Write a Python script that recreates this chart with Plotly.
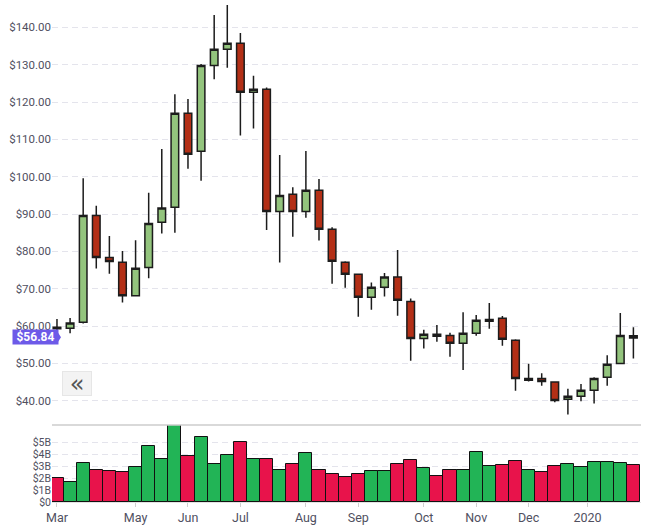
import plotly.graph_objects as go

# ---- data (weekly candles) ----
open_ = [59.7, 59.4, 61.0, 89.6, 78.4, 77.1, 68.1, 75.7, 87.8, 91.8,
         117.0, 106.8, 129.8, 134.1, 135.7, 122.6, 123.4, 90.7, 95.3, 90.7,
         96.4, 85.9, 77.1, 73.9, 67.7, 70.4, 73.15, 66.6, 56.7, 57.8,
         57.5, 55.4, 58.1, 61.3, 62.1, 56.2, 45.5, 46.0, 45.0, 40.4,
         41.2, 42.8, 46.3, 50.0, 57.4]
high = [61.9, 62.2, 99.6, 92.2, 84.1, 80.1, 83.0, 95.7, 107.4, 122.1,
        120.8, 130.2, 143.3, 146.0, 138.5, 127.0, 123.9, 105.8, 97.2, 106.9,
        99.4, 86.45, 77.35, 74.0, 71.7, 74.2, 80.4, 67.4, 59.0, 60.3,
        58.2, 63.7, 63.0, 66.2, 62.7, 56.5, 49.9, 47.4, 45.2, 43.2,
        44.5, 46.3, 52.2, 63.5, 59.7]
low = [58.2, 58.1, 60.7, 75.4, 74.0, 66.3, 68.0, 72.8, 84.8, 85.0,
       102.1, 98.9, 126.1, 129.2, 111.0, 112.9, 85.7, 77.0, 83.9, 89.0,
       82.9, 71.35, 70.3, 62.5, 64.4, 67.9, 62.8, 50.7, 54.0, 55.8,
       51.8, 48.25, 57.4, 59.3, 54.75, 42.7, 45.2, 44.0, 39.6, 36.3,
       39.9, 39.3, 44.0, 50.0, 51.3]
close = [59.3, 60.8, 89.6, 78.4, 77.3, 68.1, 75.5, 87.5, 91.6, 117.0,
         106.0, 129.8, 134.1, 135.7, 122.6, 123.4, 90.7, 95.0, 90.7, 96.4,
         85.9, 77.35, 73.9, 67.7, 70.4, 73.15, 66.9, 56.7, 57.8, 57.3,
         55.4, 58.1, 61.55, 61.8, 56.5, 46.0, 46.0, 45.2, 40.1, 41.2,
         42.8, 46.0, 49.8, 57.5, 56.84]
volume_b = [2.0, 1.67, 3.25, 2.67, 2.58, 2.5, 2.92, 4.67, 3.58, 6.42,
            3.83, 5.42, 3.17, 3.92, 5.0, 3.58, 3.58, 2.67, 3.17, 4.08,
            2.67, 2.33, 2.08, 2.33, 2.58, 2.58, 3.17, 3.5, 2.83, 2.17,
            2.67, 2.67, 4.17, 3.0, 3.08, 3.42, 2.67, 2.5, 3.0, 3.17,
            2.92, 3.33, 3.33, 3.25, 3.08]
tick_labels = ["Mar", "May", "Jun", "Jul", "Aug", "Sep", "Oct", "Nov", "Dec", "2020"]
tick_index = [0, 6, 10, 14, 19, 23, 28, 32, 36, 40.5]
last_price_label = "$56.84"

# ---- layout geometry ----
W, H = 647, 528
ML, MR, MT, MB = 52, 6, 0, 26
PW, PH = W - ML - MR, H - MT - MB
vol_top = (PH - (425 - MT)) / PH  # volume panel top (paper)


def px(x):
    return (x - ML) / PW


def py(y):
    return (PH - (y - MT)) / PH


idx = list(range(len(close)))
vol = [v * 1e9 for v in volume_b]
vol_colors = ["#22b456" if c >= o else "#e8134b" for o, c in zip(open_, close)]

FONT = "Roboto"
LBL = "#50505f"

fig = go.Figure()
fig.add_trace(go.Candlestick(
    x=idx, open=open_, high=high, low=low, close=close,
    xaxis="x", yaxis="y", whiskerwidth=0, showlegend=False,
    increasing=dict(fillcolor="#93c47d", line=dict(color="#1c1c1c", width=1.5)),
    decreasing=dict(fillcolor="#b32f16", line=dict(color="#1c1c1c", width=1.5)),
))
fig.add_trace(go.Bar(
    x=idx, y=vol, xaxis="x2", yaxis="y2", showlegend=False,
    marker=dict(color=vol_colors, line=dict(color="#111111", width=1)),
))

grid = dict(gridcolor="#e4e4ec", griddash="6px,4px", gridwidth=1)
xr = [-0.38, len(close) - 0.42]

fig.update_layout(
    width=W, height=H,
    margin=dict(l=ML, r=MR, t=MT, b=MB),
    paper_bgcolor="white", plot_bgcolor="white",
    bargap=0, boxgap=0.42, boxgroupgap=0,
    font=dict(family=FONT, color=LBL),
    xaxis=dict(domain=[0, 1], anchor="y", range=xr, showticklabels=False,
               showgrid=False, zeroline=False, rangeslider=dict(visible=False),
               fixedrange=True),
    xaxis2=dict(domain=[0, 1], anchor="y2", range=xr, tickmode="array",
                tickvals=tick_index, ticktext=tick_labels, ticks="outside",
                ticklen=4, tickcolor="#cfcfcf", showline=True, linecolor="#e3e3e3",
                showgrid=False, zeroline=False, tickfont=dict(size=12.5, color=LBL)),
    yaxis=dict(domain=[vol_top, 1], range=[33.52, 147.31], tickmode="array",
               tickvals=[40, 50, 60, 70, 80, 90, 100, 110, 120, 130, 140],
               tickformat="$,.2f", zeroline=False, tickfont=dict(size=11.5, color=LBL),
               **grid),
    yaxis2=dict(domain=[0, vol_top], range=[0, 6.42e9], tickmode="array",
                tickvals=[0, 1e9, 2e9, 3e9, 4e9, 5e9],
                ticktext=["$0", "$1B", "$2B", "$3B", "$4B", "$5B"],
                zeroline=False, tickfont=dict(size=10.5, color=LBL), **grid),
    shapes=[
        dict(type="line", xref="paper", yref="paper", x0=0, x1=1, y0=vol_top, y1=vol_top,
             line=dict(color="#cccccc", width=1.5)),
        dict(type="path", xref="paper", yref="paper",
             path=f"M {px(56.5)} {py(330.3)} L {px(61)} {py(337.3)} L {px(56.5)} {py(344.3)} Z",
             fillcolor="#6d5ae8", line=dict(width=0)),
    ],
    annotations=[
        dict(xref="paper", yref="paper", x=px(12), y=py(337.3), xanchor="left", yanchor="middle",
             text=f"<b>{last_price_label}</b>", showarrow=False, bgcolor="#6d5ae8",
             font=dict(color="white", size=12, family=FONT), width=45, height=14, borderpad=0),
        dict(xref="paper", yref="paper", x=px(77), y=py(383.5), xanchor="center", yanchor="middle",
             text="«", showarrow=False, bgcolor="#f3f3f3", bordercolor="#e6e6e6", borderwidth=1,
             font=dict(color="#555555", size=24, family="DejaVu Sans"), width=28, height=23, borderpad=0),
    ],
)

fig.write_html("out.html")
